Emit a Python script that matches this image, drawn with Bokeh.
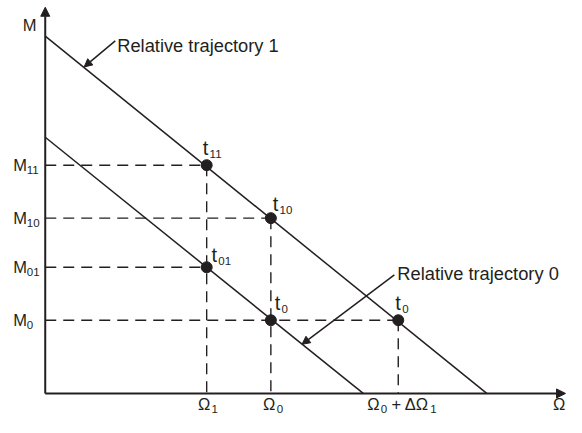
from bokeh.plotting import figure
from bokeh.models import Range1d, Arrow, NormalHead
from bokeh.core.properties import value
from bokeh.embed import file_html
from bokeh.resources import INLINE

# ---- data (chart units, origin at the axes' crossing) ----
omega_values = [166, 232, 363]            # Ω1, Ω0, Ω0 + ΔΩ1
m_values = [237, 182, 131, 76]            # M11, M10, M01, M0
m_subs = ["11", "10", "01", "0"]
traj1 = (371, 454)                        # (M intercept, Ω intercept) of relative trajectory 1
traj0 = (266, 327)                        # (M intercept, Ω intercept) of relative trajectory 0
point_x = [166, 232, 166, 232, 363]       # t11, t10, t01, t0, t0
point_y = [237, 182, 131, 76, 76]
point_subs = ["11", "10", "01", "0", "0"]
traj_names = ["Relative trajectory 1", "Relative trajectory 0"]

INK = "#231f20"
FONT = value("Liberation Sans")

p = figure(width=566, height=417, x_range=Range1d(-46, 536), y_range=Range1d(-25, 408),
           output_backend="svg", toolbar_location=None, min_border=0,
           x_axis_location=None, y_axis_location=None)
p.grid.visible = False
p.outline_line_color = None
p.background_fill_color = "white"
p.border_fill_color = "white"


def txt(x, y, s, size):
    # small upward correction so that the visible baseline sits where intended
    lift = 0.34 * size
    p.text(x=[x], y=[y + lift], text=[s], text_font=FONT, text_font_size=f"{size}px",
           text_color=INK, text_align="left", text_baseline="alphabetic")


def head(size):
    return NormalHead(size=size, fill_color=INK, line_color=INK, line_width=1)


# axes with arrow heads
p.add_layout(Arrow(end=head(9), x_start=0, y_start=0, x_end=0, y_end=401,
                   line_width=2, line_color=INK))
p.add_layout(Arrow(end=head(9), x_start=0, y_start=0, x_end=535, y_end=0,
                   line_width=2, line_color=INK))

# dashed guides
h_end = [omega_values[0], omega_values[1], omega_values[0], omega_values[2]]
p.segment(x0=[0] * 4, y0=m_values, x1=h_end, y1=m_values,
          line_color=INK, line_width=1.4, line_dash="11 7")
v_top = [m_values[0], m_values[1], m_values[3]]
p.segment(x0=omega_values, y0=v_top, x1=omega_values, y1=[0, 0, 0],
          line_color=INK, line_width=1.4, line_dash="11 7")

# trajectories
p.line([0, traj1[1]], [traj1[0], 0], line_color=INK, line_width=1.5)
p.line([0, traj0[1]], [traj0[0], 0], line_color=INK, line_width=1.5)

# points
p.scatter(point_x, point_y, size=11, color=INK)

# leader arrows
p.add_layout(Arrow(end=head(8), x_start=72, y_start=366, x_end=40, y_end=339,
                   line_width=1.5, line_color=INK))
p.add_layout(Arrow(end=head(8), x_start=359, y_start=123, x_end=264, y_end=51,
                   line_width=1.5, line_color=INK))

# trajectory labels
txt(74, 355, traj_names[0], 18.3)
txt(362, 118, traj_names[1], 18.3)

# axis names
txt(-23, 377, "M", 16.5)
txt(522, -17, "Ω", 16.5)

# M tick labels
for mv, sub in zip(m_values, m_subs):
    txt(-33, mv - 5, "M", 16.5)
    txt(-19, mv - 8.5, sub, 11.5)

# Ω tick labels
txt(omega_values[0] - 9, -17, "Ω", 16.5)
txt(omega_values[0] + 5, -20.5, "1", 11.5)
txt(omega_values[1] - 8, -17, "Ω", 16.5)
txt(omega_values[1] + 6, -20.5, "0", 11.5)
txt(omega_values[2] - 32, -17, "Ω", 16.5)
txt(omega_values[2] - 18, -20.5, "0", 11.5)
txt(omega_values[2] - 7, -17, "+ ΔΩ", 16.5)
txt(omega_values[2] + 33, -20.5, "1", 11.5)

# point labels
offsets = [(-4, 11), (2, 8), (5, 6), (4, 11), (-3, 11)]
for x, y, sub, (dx, dy) in zip(point_x, point_y, point_subs, offsets):
    txt(x + dx, y + dy, "t", 20)
    txt(x + dx + 7, y + dy - 3, sub, 11.5)

open("out.html", "w").write(file_html(p, INLINE))
